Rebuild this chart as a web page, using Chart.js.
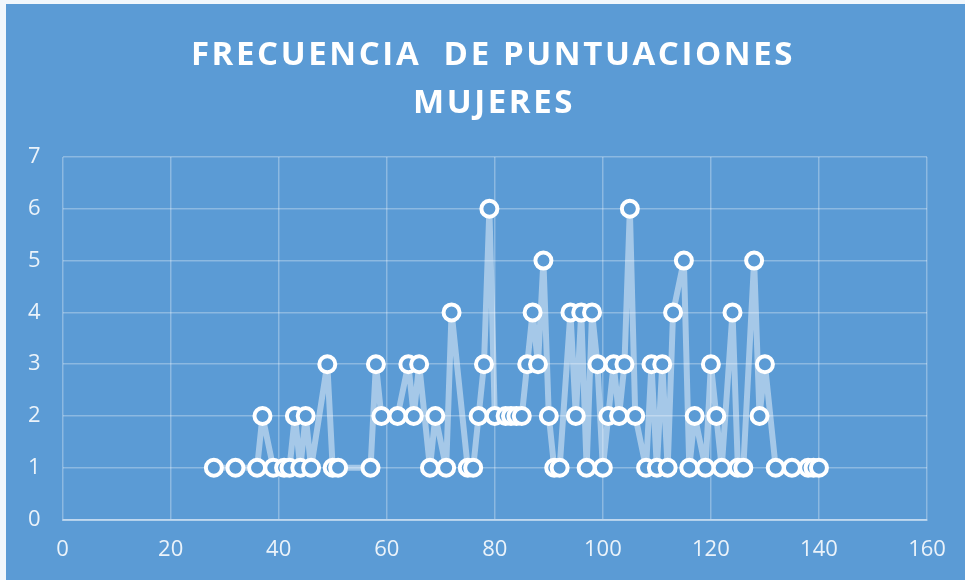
<!DOCTYPE html>
<html lang="es">
<head>
    <meta charset="UTF-8">
    <title>Frecuencia de puntuaciones - Mujeres</title>
    <script src="https://cdn.jsdelivr.net/npm/chart.js"></script>
    <style>
        body {
            margin: 0;
            background-color: #f1f7fc;
            width: 965px;
            height: 580px;
            overflow: hidden;
        }
        .chart-box {
            position: absolute;
            left: 6px;
            top: 4px;
            width: 959px;
            height: 576px;
            background-color: #5b9bd5;
        }
    </style>
</head>
<body>
    <div class="chart-box">
        <canvas id="freqChart"></canvas>
    </div>

    <script>
        // Data
        const titleLines = ['FRECUENCIA  DE PUNTUACIONES', 'MUJERES'];
        const scores = [28, 32, 36, 37, 39, 41, 42, 43, 44, 45, 46, 49, 50, 51, 57, 58, 59, 62, 64, 65,
                        66, 68, 69, 71, 72, 75, 76, 77, 78, 79, 80, 82, 83, 84, 85, 86, 87, 88, 89, 90,
                        91, 92, 94, 95, 96, 97, 98, 99, 100, 101, 102, 103, 104, 105, 106, 108, 109, 110, 111, 112,
                        113, 115, 116, 117, 119, 120, 121, 122, 124, 125, 126, 128, 129, 130, 132, 135, 138, 139, 140];
        const frequencies = [1, 1, 1, 2, 1, 1, 1, 2, 1, 2, 1, 3, 1, 1, 1, 3, 2, 2, 3, 2,
                             3, 1, 2, 1, 4, 1, 1, 2, 3, 6, 2, 2, 2, 2, 2, 3, 4, 3, 5, 2,
                             1, 1, 4, 2, 4, 1, 4, 3, 1, 2, 3, 2, 3, 6, 2, 1, 3, 1, 3, 1,
                             4, 5, 1, 2, 1, 3, 2, 1, 4, 1, 1, 5, 2, 3, 1, 1, 1, 1, 1];
        const xTicks = [0, 20, 40, 60, 80, 100, 120, 140, 160];
        const yTicks = [0, 1, 2, 3, 4, 5, 6, 7];

        const points = scores.map((s, i) => ({ x: s, y: frequencies[i] }));

        // Two-line spaced title drawn on the canvas
        const titlePlugin = {
            id: 'spacedTitle',
            afterDraw(chart) {
                const ctx = chart.ctx;
                ctx.save();
                ctx.fillStyle = '#ffffff';
                ctx.font = 'bold 33px "Open Sans"';
                ctx.textAlign = 'center';
                ctx.textBaseline = 'middle';
                ctx.letterSpacing = '2.6px';
                ctx.fillText(titleLines[0], 487, 52);
                ctx.fillText(titleLines[1], 488, 100);
                ctx.restore();
            }
        };

        const gridColor = 'rgba(255,255,255,0.3)';
        const tickFont = { family: '"Open Sans"', size: 22 };

        new Chart(document.getElementById('freqChart'), {
            type: 'scatter',
            data: {
                datasets: [{
                    data: points,
                    showLine: true,
                    borderColor: 'rgba(255,255,255,0.45)',
                    borderWidth: 6,
                    borderJoinStyle: 'round',
                    borderCapStyle: 'round',
                    pointRadius: 8,
                    pointHoverRadius: 8,
                    pointBorderWidth: 4,
                    pointBorderColor: '#ffffff',
                    pointBackgroundColor: '#5b9bd5'
                }]
            },
            options: {
                responsive: true,
                maintainAspectRatio: false,
                animation: false,
                layout: {
                    padding: { top: 153, left: 0, right: 38, bottom: 0 }
                },
                plugins: {
                    legend: { display: false },
                    tooltip: { enabled: false }
                },
                scales: {
                    x: {
                        type: 'linear',
                        min: 0,
                        max: 160,
                        afterBuildTicks: axis => { axis.ticks = xTicks.map(v => ({ value: v })); },
                        grid: { color: gridColor, lineWidth: 1.5, drawTicks: false },
                        border: { color: 'rgba(255,255,255,0.45)', width: 2 },
                        ticks: { color: 'rgba(255,255,255,0.88)', font: tickFont, padding: 17, maxRotation: 0 }
                    },
                    y: {
                        type: 'linear',
                        min: 0,
                        max: 7,
                        afterBuildTicks: axis => { axis.ticks = yTicks.map(v => ({ value: v })); },
                        grid: { color: gridColor, lineWidth: 1.5, drawTicks: false },
                        border: { display: false },
                        ticks: { color: 'rgba(255,255,255,0.88)', font: tickFont, padding: 22 }
                    }
                }
            },
            plugins: [titlePlugin]
        });
    </script>
</body>
</html>
